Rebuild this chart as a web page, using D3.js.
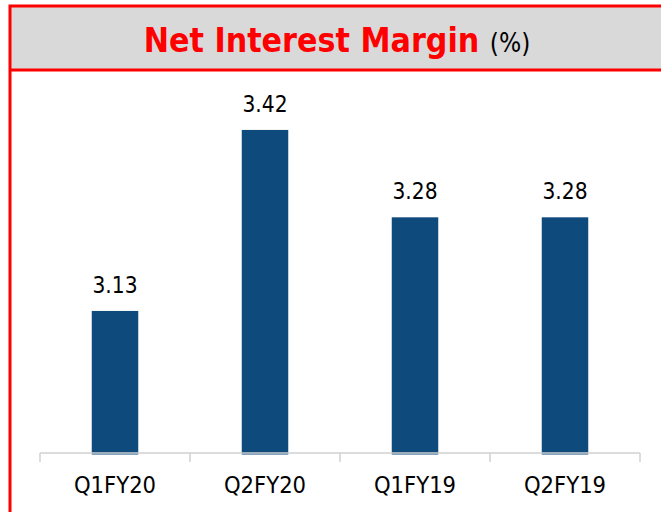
<!DOCTYPE html>
<html>
<head>
<meta charset="utf-8">
<script src="https://cdn.jsdelivr.net/npm/d3@7"></script>
<style>
  body { margin: 0; background: #fff; }
  svg { display: block; font-family: "DejaVu Sans Condensed", "DejaVu Sans", sans-serif; }
</style>
</head>
<body>
<div id="chart"></div>
<script>
  const categories = ["Q1FY20", "Q2FY20", "Q1FY19", "Q2FY19"]
  const values = [3.13, 3.42, 3.28, 3.28]
  const titleMain = "Net Interest Margin"
  const titleUnit = "(%)"

  const W = 661, H = 512
  const svg = d3.select("#chart").append("svg")
    .attr("width", W).attr("height", H)

  // title band + frame
  svg.append("rect")
    .attr("x", 10).attr("y", 6).attr("width", W + 10).attr("height", 64)
    .attr("fill", "#d9d9d9")
  svg.append("rect")
    .attr("x", 10).attr("y", 6).attr("width", W + 10).attr("height", H + 10)
    .attr("fill", "none").attr("stroke", "#ff0000").attr("stroke-width", 3)
  svg.append("line")
    .attr("x1", 10).attr("x2", W).attr("y1", 70).attr("y2", 70)
    .attr("stroke", "#ff0000").attr("stroke-width", 3)

  const title = svg.append("text")
    .attr("x", 337).attr("y", 52)
    .attr("text-anchor", "middle")
  title.append("tspan")
    .attr("fill", "#ff0000").attr("font-weight", "bold").attr("font-size", 33.6)
    .text(titleMain + " ")
  title.append("tspan")
    .attr("fill", "#000").attr("font-size", 26)
    .text(titleUnit)

  // scales
  const x = d3.scaleBand().domain(categories).range([40, 640]).paddingInner(0.69).paddingOuter(0.345)
  const y = d3.scaleLinear().domain([2.9, 3.5]).range([454.5, 80])

  svg.selectAll(".bar").data(values).join("rect")
    .attr("class", "bar")
    .attr("x", (d, i) => x(categories[i]))
    .attr("y", d => y(d))
    .attr("width", x.bandwidth())
    .attr("height", d => y(2.9) - y(d))
    .attr("fill", "#0f4a7c")

  svg.selectAll(".val").data(values).join("text")
    .attr("class", "val")
    .attr("x", (d, i) => x(categories[i]) + x.bandwidth() / 2)
    .attr("y", d => y(d) - 18)
    .attr("text-anchor", "middle")
    .attr("font-size", 22.5)
    .attr("fill", "#000")
    .text(d => d.toFixed(2))

  // axis: ticks at category boundaries
  const edges = categories.map(c => x(c) - x.step() * x.paddingInner() / 2)
  edges.push(640)
  svg.append("line")
    .attr("x1", 40).attr("x2", 640).attr("y1", 453).attr("y2", 453)
    .attr("stroke", "#d0d0d0").attr("stroke-width", 1.5)
  svg.selectAll(".tick").data(edges).join("line")
    .attr("class", "tick")
    .attr("x1", d => d).attr("x2", d => d)
    .attr("y1", 453).attr("y2", 462)
    .attr("stroke", "#d0d0d0").attr("stroke-width", 1.5)

  svg.selectAll(".cat").data(categories).join("text")
    .attr("class", "cat")
    .attr("x", d => x(d) + x.bandwidth() / 2)
    .attr("y", 493)
    .attr("text-anchor", "middle")
    .attr("font-size", 23.5)
    .attr("fill", "#000")
    .text(d => d)
</script>
</body>
</html>
